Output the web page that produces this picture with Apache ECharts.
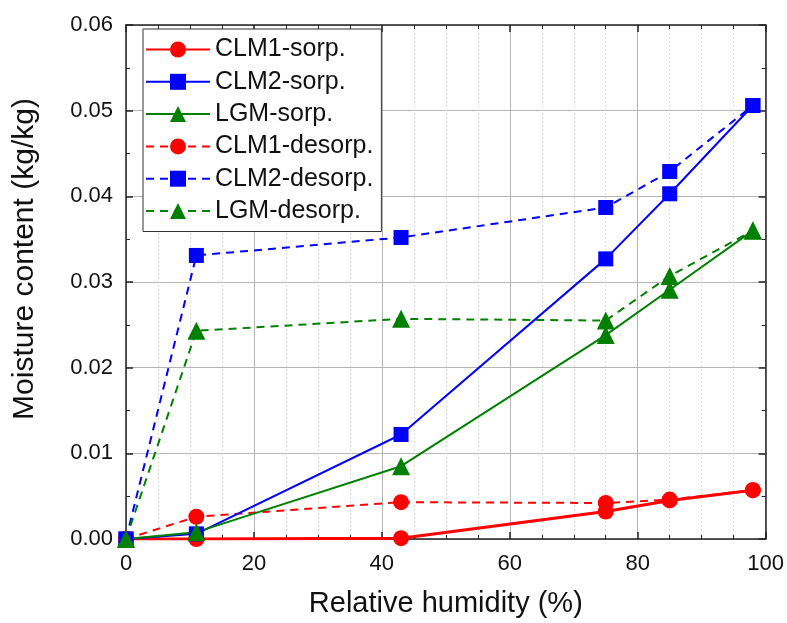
<!DOCTYPE html>
<html><head><meta charset="utf-8">
<script src="https://cdn.jsdelivr.net/npm/echarts@6/dist/echarts.min.js"></script>
<style>html,body{margin:0;padding:0;background:#fff}#c{width:787px;height:623px}</style>
</head><body><div id="c"></div>
<script>
const rh = [0, 11, 43, 75, 85, 98];
const clm1Sorp = [0, 0, 0.0001, 0.0032, 0.0045, 0.0057];
const clm2Sorp = [0, 0.0006, 0.0122, 0.0327, 0.0403, 0.0506];
const lgmSorp = [0, 0.0008, 0.0085, 0.0238, 0.0291, 0.036];
const clm1Desorp = [0, 0.0026, 0.0043, 0.0042, 0.0046, 0.0057];
const clm2Desorp = [0, 0.0331, 0.0352, 0.0387, 0.0429, 0.0506];
const lgmDesorp = [0, 0.0243, 0.0257, 0.0255, 0.0307, 0.036];
const names = ['CLM1-sorp.', 'CLM2-sorp.', 'LGM-sorp.', 'CLM1-desorp.', 'CLM2-desorp.', 'LGM-desorp.'];

const font = 'Arial, "Liberation Sans", sans-serif';
const pair = arr => rh.map((x, i) => [x, arr[i]]);
function ser(name, data, color, symbol, size, width, dashed) {
  return {
    name, type: 'line', data: pair(data), symbol, symbolSize: size,
    itemStyle: { color },
    lineStyle: { color, width, type: dashed ? [8, 6] : 'solid' },
    z: dashed ? 3 : 4
  };
}
const chart = echarts.init(document.getElementById('c'));
const axisLine = { show: true, onZero: false, lineStyle: { color: '#222', width: 1.5 } };
const tick = { show: true, inside: true, length: 7, lineStyle: { color: '#222', width: 1.5 } };
chart.setOption({
  backgroundColor: '#fff',
  animation: false,
  grid: { left: 126, right: 19, top: 25, bottom: 82 },
  legend: {
    data: names,
    orient: 'vertical', left: 143, top: 29,
    itemWidth: 64, itemHeight: 20, itemGap: 7.3,
    padding: [8, 8, 8, 2],
    borderColor: '#333', borderWidth: 1, backgroundColor: '#fff',
    textStyle: { fontFamily: font, fontSize: 25, color: '#111' }
  },
  xAxis: [{
    type: 'value', min: 0, max: 100, interval: 20,
    name: 'Relative humidity (%)', nameLocation: 'middle', nameGap: 50,
    nameTextStyle: { fontFamily: font, fontSize: 29, color: '#111' },
    axisLine, axisTick: tick,
    minorTick: { show: true, splitNumber: 4, length: 4, lineStyle: { color: '#222' } },
    axisLabel: { fontFamily: font, fontSize: 22, color: '#111', margin: 14 },
    splitLine: { show: true, lineStyle: { color: '#b5b5b5', width: 1 } },
    minorSplitLine: { show: true, lineStyle: { color: '#dedede', type: [2, 2] } }
  }, {
    type: 'value', min: 0, max: 100, interval: 20, position: 'top',
    axisLine, axisTick: tick,
    minorTick: { show: true, splitNumber: 4, length: 4, lineStyle: { color: '#222' } },
    axisLabel: { show: false }, splitLine: { show: false }
  }],
  yAxis: [{
    type: 'value', min: 0, max: 0.06, interval: 0.01,
    name: 'Moisture content (kg/kg)', nameLocation: 'middle', nameGap: 86,
    nameTextStyle: { fontFamily: font, fontSize: 30, color: '#111', padding: [0, 0, 0, 46] },
    axisLine, axisTick: tick,
    minorTick: { show: true, splitNumber: 2, length: 4, lineStyle: { color: '#222' } },
    axisLabel: { fontFamily: font, fontSize: 22, color: '#111', margin: 13, formatter: v => v.toFixed(2) },
    splitLine: { show: true, lineStyle: { color: '#b5b5b5', width: 1 } }
  }, {
    type: 'value', min: 0, max: 0.06, interval: 0.01, position: 'right',
    axisLine, axisTick: tick,
    minorTick: { show: true, splitNumber: 2, length: 4, lineStyle: { color: '#222' } },
    axisLabel: { show: false }, splitLine: { show: false }
  }],
  series: [
    ser(names[0], clm1Sorp, '#ff0000', 'circle', 16, 3, false),
    ser(names[1], clm2Sorp, '#0000ff', 'rect', 15, 2, false),
    ser(names[2], lgmSorp, '#008000', 'triangle', 18, 2, false),
    ser(names[3], clm1Desorp, '#ff0000', 'circle', 16, 2, true),
    ser(names[4], clm2Desorp, '#0000ff', 'rect', 15, 2, true),
    ser(names[5], lgmDesorp, '#008000', 'triangle', 18, 2, true)
  ]
});
</script></body></html>
